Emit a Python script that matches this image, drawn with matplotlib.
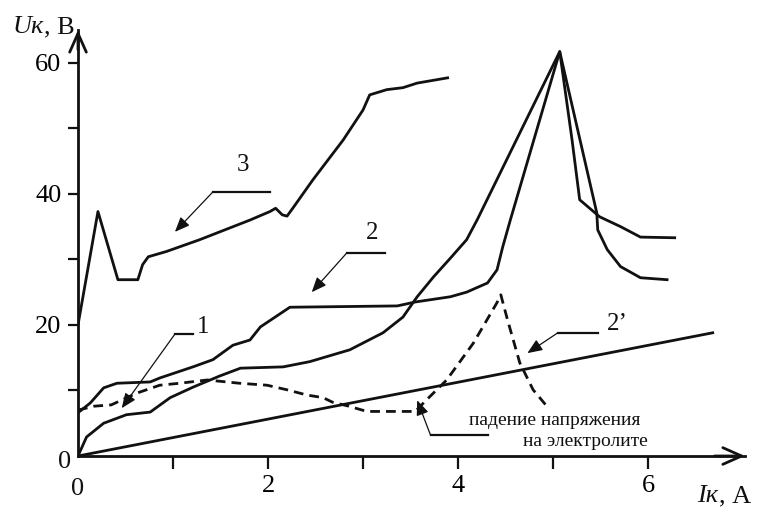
import matplotlib
matplotlib.use("Agg")
import matplotlib.pyplot as plt

plt.rcParams['font.family'] = ['Liberation Serif', 'DejaVu Serif']

# current I, A  /  voltage U, V
curve3_I = [0.0, 0.21, 0.42, 0.63, 0.68, 0.74, 0.93, 1.28, 1.81, 2.02, 2.08, 2.15,
            2.2, 2.27, 2.47, 2.79, 3.0, 3.07, 3.25, 3.42, 3.57, 3.89]
curve3_U = [20.0, 37.3, 26.9, 26.9, 29.2, 30.4, 31.2, 33.0, 36.0, 37.3, 37.8, 36.8,
            36.6, 38.0, 42.1, 48.2, 52.8, 55.1, 55.9, 56.2, 56.9, 57.7]

curve2_I = [0.0, 0.13, 0.27, 0.41, 0.76, 0.86, 1.21, 1.42, 1.63, 1.81, 1.92, 2.23,
            3.36, 3.55, 3.92, 4.09, 4.31, 4.41, 4.47, 4.55, 5.07, 5.46, 5.47, 5.57,
            5.71, 5.92, 6.2]
curve2_U = [6.6, 8.1, 10.4, 11.1, 11.3, 11.9, 13.6, 14.7, 16.9, 17.7, 19.7, 22.7,
            22.9, 23.5, 24.3, 25.0, 26.4, 28.4, 31.9, 36.0, 61.7, 37.1, 34.5, 31.5,
            28.9, 27.2, 26.9]

curve1_I = [0.0, 0.09, 0.27, 0.51, 0.76, 0.97, 1.21, 1.49, 1.71, 2.16, 2.44, 2.86,
            3.21, 3.42, 3.57, 3.74, 3.92, 4.09, 4.2, 5.07, 5.2, 5.28, 5.49, 5.71,
            5.92, 6.28]
curve1_U = [0.0, 2.9, 5.0, 6.3, 6.7, 8.9, 10.5, 12.2, 13.4, 13.6, 14.4, 16.2,
            18.8, 21.2, 24.3, 27.3, 30.2, 33.0, 36.0, 61.7, 48.2, 39.1, 36.5, 35.0,
            33.4, 33.3]

# voltage drop on the electrolyte (dashed)
drop_I = [0.0, 0.17, 0.35, 0.62, 0.86, 1.07, 1.36, 1.7, 1.99, 2.2, 2.41, 2.58,
          2.68, 2.85, 3.04, 3.55, 3.65, 3.88, 4.16, 4.41, 4.45, 4.52, 4.65, 4.79, 4.94]
drop_U = [7.0, 7.6, 7.8, 9.6, 10.8, 11.1, 11.6, 11.1, 10.8, 10.1, 9.3, 8.9,
          8.2, 7.6, 6.8, 6.8, 8.3, 11.6, 17.2, 23.4, 24.6, 20.8, 14.2, 10.1, 7.5]

line2p_I = [0.0, 6.68]
line2p_U = [0.0, 18.8]

x_major = [2, 4, 6]
x_minor = [1, 3, 5]
y_major = [20, 40, 60]
y_minor = [10, 30, 50]

# label text, label position, knee of leader, arrow tip, end of horizontal bar
labels = [
    ('3', (1.74, 44.4), (1.42, 40.3), (1.02, 34.2), 2.02),
    ('2', (3.10, 34.0), (2.83, 31.0), (2.46, 25.0), 3.23),
    ('1', (1.32, 19.7), (1.02, 18.6), (0.46, 7.3), 1.21),
    ("2’", (5.68, 20.2), (5.05, 18.8), (4.73, 15.7), 5.47),
]

ink = '#111111'

fig = plt.figure(figsize=(7.63, 5.09), dpi=100)
ax = fig.add_axes([78 / 763, 53 / 509, 667 / 763, 426 / 509])
ax.set_xlim(0, 7.02)
ax.set_ylim(0, 65)

ax.plot(curve3_I, curve3_U, color=ink, lw=2.0)
ax.plot(curve2_I, curve2_U, color=ink, lw=2.0)
ax.plot(curve1_I, curve1_U, color=ink, lw=2.0)
ax.plot(line2p_I, line2p_U, color=ink, lw=2.0)
ax.plot(drop_I, drop_U, color=ink, lw=2.0, linestyle=(0, (3.5, 2.2)))

# axes with arrows
for side in ['top', 'right']:
    ax.spines[side].set_visible(False)
for side in ['left', 'bottom']:
    ax.spines[side].set_linewidth(2.0)
    ax.spines[side].set_color(ink)
arrow = dict(arrowstyle='->,head_length=0.9,head_width=0.4', lw=2.0,
             color=ink, mutation_scale=15, shrinkA=0, shrinkB=0)
ax.annotate('', xy=(7.02, 0), xytext=(6.7, 0), arrowprops=arrow, annotation_clip=False)
ax.annotate('', xy=(0, 65), xytext=(0, 62), arrowprops=arrow, annotation_clip=False)

ax.set_xticks(x_major)
ax.set_xticks(x_minor, minor=True)
ax.set_yticks(y_major)
ax.set_yticks(y_minor, minor=True)
ax.tick_params(axis='x', which='both', direction='out', length=9, width=1.6,
               color=ink, labelsize=19, pad=5)
ax.tick_params(axis='y', which='both', direction='out', length=7, width=1.6,
               color=ink, labelsize=19, pad=5)
ax.text(0, -3.3, '0', ha='center', va='top', fontsize=19, color=ink)
ax.text(-0.07, -0.9, '0', ha='right', va='center', fontsize=19, color=ink)

# curve labels with leaders
for txt, pos, knee, tip, bar_end in labels:
    ax.text(pos[0], pos[1], txt, ha='center', va='center', fontsize=18, color=ink)
    ax.plot([knee[0], bar_end], [knee[1], knee[1]], color=ink, lw=1.6)
    ax.annotate('', xy=tip, xytext=knee,
                arrowprops=dict(arrowstyle='-|>,head_length=0.6,head_width=0.25',
                                lw=0.9, color=ink, mutation_scale=15,
                                shrinkA=0, shrinkB=0))

# electrolyte note
ax.plot([3.71, 4.31], [3.2, 3.2], color=ink, lw=1.6)
ax.annotate('', xy=(3.57, 8.5), xytext=(3.71, 3.2),
            arrowprops=dict(arrowstyle='-|>,head_length=0.6,head_width=0.25',
                            lw=0.9, color=ink, mutation_scale=15,
                            shrinkA=0, shrinkB=0))
ax.text(5.02, 5.4, 'падение напряжения', ha='center', va='center',
        fontsize=14, color=ink)
ax.text(5.34, 2.2, 'на электролите', ha='center', va='center',
        fontsize=14, color=ink)

# axis labels
fig.text(13 / 763, 1 - 33 / 509, 'Uк', style='italic', fontsize=19,
         va='baseline', color=ink)
fig.text(44 / 763, 1 - 33 / 509, ', В', fontsize=19, va='baseline', color=ink)
fig.text(697 / 763, 1 - 502 / 509, 'Iк', style='italic', fontsize=19,
         va='baseline', color=ink)
fig.text(719 / 763, 1 - 502 / 509, ', А', fontsize=19, va='baseline', color=ink)

fig.savefig('out.png', dpi=100)
